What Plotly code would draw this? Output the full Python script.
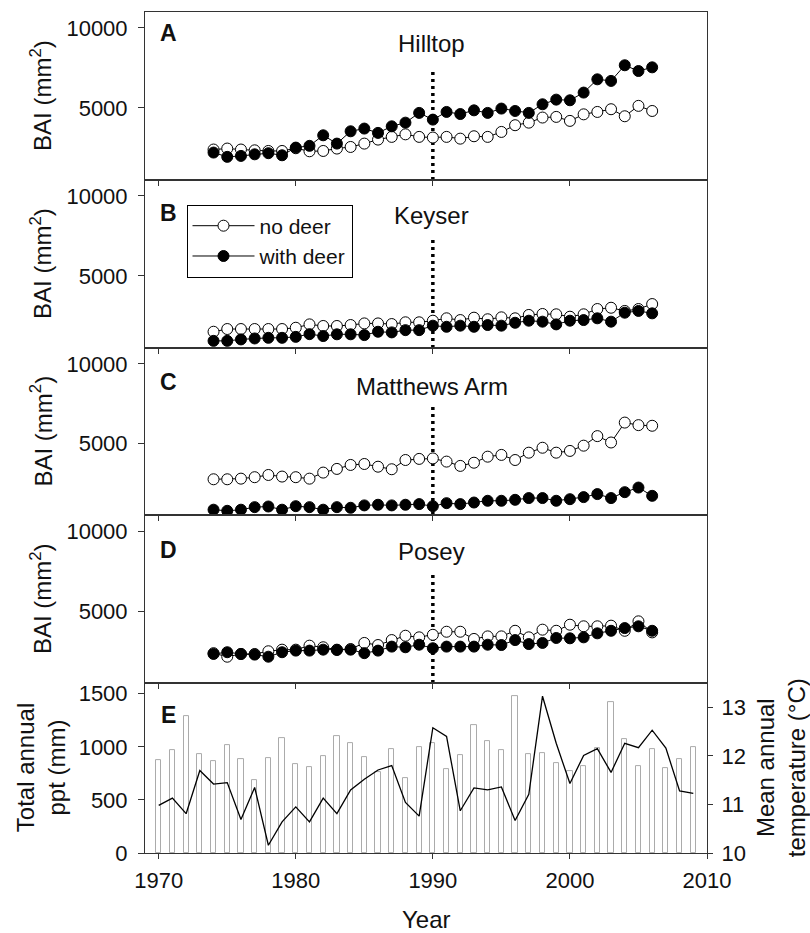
import plotly.graph_objects as go

# ---------------- data ----------------
bai_years = list(range(1974, 2007))

hilltop_no_deer = [2400, 2460, 2400, 2350, 2310, 2310, 2480, 2290, 2310, 2460, 2560,
                   2770, 3020, 3190, 3350, 3190, 3150, 3190, 3080, 3230, 3190, 3500,
                   3920, 4080, 4400, 4440, 4190, 4600, 4750, 4920, 4480, 5130, 4810]
hilltop_with_deer = [2210, 1940, 2000, 2100, 2170, 2040, 2520, 2630, 3290, 2770, 3540,
                     3710, 3440, 3850, 4080, 4690, 4270, 4750, 4620, 4850, 4690, 4960,
                     4810, 4690, 5230, 5520, 5480, 5960, 6790, 6690, 7670, 7310, 7540]

keyser_no_deer = [1510, 1680, 1680, 1680, 1680, 1680, 1760, 1970, 1870, 1870, 1930,
                  2030, 2030, 1990, 2100, 2100, 2200, 2350, 2240, 2390, 2290, 2410,
                  2350, 2560, 2620, 2600, 2450, 2600, 2930, 3010, 2810, 2930, 3240]
keyser_with_deer = [940, 940, 1030, 1090, 1130, 1130, 1190, 1360, 1240, 1350, 1350,
                    1300, 1510, 1470, 1610, 1610, 1890, 1820, 1890, 1820, 1930, 1890,
                    2070, 2200, 2140, 1970, 2200, 2240, 2350, 2140, 2700, 2810, 2660]

matthews_no_deer = [2750, 2750, 2790, 2880, 3020, 2920, 2880, 2790, 3170, 3400, 3650,
                    3710, 3540, 3380, 3960, 4030, 4060, 3860, 3590, 3790, 4170, 4280,
                    3960, 4420, 4730, 4420, 4530, 4860, 5460, 5060, 6310, 6150, 6110]
matthews_with_deer = [840, 770, 840, 1000, 1040, 840, 1060, 1000, 840, 1000, 960,
                      1110, 1150, 1110, 1150, 1190, 1060, 1250, 1190, 1290, 1400, 1400,
                      1460, 1570, 1570, 1400, 1500, 1630, 1820, 1570, 1940, 2230, 1710]

posey_no_deer = [2370, 2150, 2320, 2320, 2490, 2590, 2590, 2840, 2740, 2590, 2630,
                 3010, 2880, 3190, 3460, 3360, 3520, 3710, 3710, 3260, 3420, 3420,
                 3770, 3360, 3840, 3770, 4150, 4050, 4050, 4090, 3770, 4360, 3670]
posey_with_deer = [2320, 2430, 2320, 2280, 2150, 2430, 2530, 2530, 2590, 2570, 2590,
                   2370, 2530, 2780, 2740, 2900, 2680, 2780, 2780, 2780, 2900, 2880,
                   3190, 2940, 3010, 3320, 3300, 3360, 3610, 3770, 3940, 4050, 3770]

site_names = ["Hilltop", "Keyser", "Matthews Arm", "Posey"]
panel_letters = ["A", "B", "C", "D", "E"]

climate_years = list(range(1970, 2010))
total_ppt = [871, 965, 1289, 928, 868, 1016, 881, 686, 896, 1082,
             833, 808, 909, 1101, 1038, 899, 761, 975, 704, 1000,
             1035, 786, 918, 1205, 1054, 969, 1481, 928, 943, 846,
             774, 815, 991, 1418, 1069, 818, 975, 796, 881, 997]
mean_temp = [10.98, 11.13, 10.81, 11.70, 11.42, 11.45, 10.69, 11.35, 10.16, 10.64,
             10.95, 10.64, 11.13, 10.81, 11.30, 11.52, 11.71, 11.80, 11.04, 10.76,
             12.58, 12.40, 10.87, 11.34, 11.30, 11.36, 10.67, 11.21, 13.23, 12.26,
             11.43, 12.01, 12.15, 11.66, 12.26, 12.17, 12.53, 12.16, 11.28, 11.23]

exclosure_year = 1990
ref_line_top = 7450

x_ticks = [1970, 1980, 1990, 2000, 2010]
bai_ticks = [5000, 10000]
ppt_ticks = [0, 500, 1000, 1500]
temp_ticks = [10, 11, 12, 13]

# ---------------- layout geometry ----------------
W, H = 810, 933
ML, MR, MT, MB = 145, 103, 10, 80
PH = H - MT - MB
PW = W - ML - MR
bounds_px = [10, 178.3, 346.7, 514.3, 682.7, 853]


def py(px):
    return (H - MB - px) / PH


def pxx(px):
    return (px - ML) / PW


FONT = "Liberation Sans, Arial, sans-serif"
AXC = "#333333"
TXT = "#111111"
TICKF = 22

fig = go.Figure()

series = [(hilltop_no_deer, hilltop_with_deer), (keyser_no_deer, keyser_with_deer),
          (matthews_no_deer, matthews_with_deer), (posey_no_deer, posey_with_deer)]

for i, (nd, wd) in enumerate(series):
    xa = "x" if i == 0 else f"x{i+1}"
    ya = "y" if i == 0 else f"y{i+1}"
    fig.add_trace(go.Scatter(x=bai_years, y=nd, xaxis=xa, yaxis=ya, mode="lines+markers",
                             name="no deer", showlegend=(i == 0), legendrank=1,
                             line=dict(color="black", width=1),
                             marker=dict(symbol="circle", size=11, color="white",
                                         line=dict(color="black", width=1))))
    fig.add_trace(go.Scatter(x=bai_years, y=wd, xaxis=xa, yaxis=ya, mode="lines+markers",
                             name="with deer", showlegend=(i == 0), legendrank=2,
                             line=dict(color="black", width=1),
                             marker=dict(symbol="circle", size=11, color="black",
                                         line=dict(color="black", width=1))))

fig.add_trace(go.Bar(x=climate_years, y=total_ppt, xaxis="x5", yaxis="y5", width=0.38,
                     marker=dict(color="white", line=dict(color="#ababab", width=1)),
                     showlegend=False))
fig.add_trace(go.Scatter(x=climate_years, y=mean_temp, xaxis="x5", yaxis="y6", mode="lines",
                         line=dict(color="black", width=1.3), showlegend=False))

layout = dict(width=W, height=H, autosize=False,
              margin=dict(l=ML, r=MR, t=MT, b=MB),
              plot_bgcolor="white", paper_bgcolor="white",
              font=dict(family=FONT, size=TICKF, color=TXT),
              bargap=0, barmode="overlay")

xcommon = dict(range=[1969, 2010], tickvals=x_ticks, showgrid=False, zeroline=False,
               showline=True, linecolor=AXC, linewidth=1, mirror=True,
               ticks="outside", ticklen=5, tickcolor=AXC,
               tickfont=dict(size=TICKF, family=FONT, color=TXT))

for k in range(5):
    top_px, bot_px = bounds_px[k], bounds_px[k + 1]
    dom = [py(bot_px), py(top_px)]
    xname = "xaxis" if k == 0 else f"xaxis{k+1}"
    yname = "yaxis" if k == 0 else f"yaxis{k+1}"
    ya = "y" if k == 0 else f"y{k+1}"
    xa = "x" if k == 0 else f"x{k+1}"
    layout[xname] = dict(xcommon, anchor=ya, domain=[0, 1], showticklabels=(k == 4))
    if k < 4:
        layout[yname] = dict(range=[500, 11000], tickvals=bai_ticks, tickformat="d",
                             domain=dom, anchor=xa,
                             showgrid=False, zeroline=False, showline=True, linecolor=AXC,
                             mirror=True, ticks="outside", ticklen=6, tickcolor=AXC,
                             ticklabelstandoff=6,
                             tickfont=dict(size=TICKF, family=FONT, color=TXT))
    else:
        layout[yname] = dict(range=[0, 1600], tickvals=ppt_ticks, tickformat="d",
                             domain=dom, anchor=xa,
                             showgrid=False, zeroline=False, showline=True, linecolor=AXC,
                             mirror=False, ticks="outside", ticklen=6, tickcolor=AXC,
                             ticklabelstandoff=6,
                             tickfont=dict(size=TICKF, family=FONT, color=TXT))
layout["xaxis5"]["ticklabelstandoff"] = 3
layout["yaxis6"] = dict(range=[10, 13.5], tickvals=temp_ticks, overlaying="y5", side="right",
                        anchor="x5", showgrid=False, zeroline=False, showline=True,
                        linecolor=AXC, ticks="outside", ticklen=5, tickcolor=AXC,
                        ticklabelstandoff=4,
                        tickfont=dict(size=TICKF, family=FONT, color=TXT))

layout["legend"] = dict(x=pxx(186.5), y=py(203), xanchor="left", yanchor="top",
                        bordercolor="black", borderwidth=1, bgcolor="white",
                        font=dict(size=21, family=FONT, color=TXT),
                        traceorder="normal", itemwidth=62)

shapes = []
for k in range(4):
    xa = "x" if k == 0 else f"x{k+1}"
    ya = "y" if k == 0 else f"y{k+1}"
    shapes.append(dict(type="line", xref=xa, yref=ya, x0=exclosure_year, x1=exclosure_year,
                       y0=500, y1=ref_line_top, layer="below",
                       line=dict(color="black", width=3.5, dash="3px,4px")))
layout["shapes"] = shapes

ann = []
letter_y = [31.5, 211.5, 381, 549.5, 715]
for k, L in enumerate(panel_letters):
    ann.append(dict(text=f"<b>{L}</b>", xref="paper", yref="paper", x=pxx(168), y=py(letter_y[k]),
                    xanchor="center", yanchor="middle", showarrow=False,
                    font=dict(size=23, family=FONT, color=TXT)))
name_y = [42, 214, 385, 551]
for k, nm in enumerate(site_names):
    ann.append(dict(text=nm, xref="paper", yref="paper", x=pxx(431.5), y=py(name_y[k]),
                    xanchor="center", yanchor="middle", showarrow=False,
                    font=dict(size=24, family=FONT, color=TXT)))
for k in range(4):
    cy = (bounds_px[k] + bounds_px[k + 1]) / 2
    ann.append(dict(text="BAI (mm<sup>2</sup>)", xref="paper", yref="paper", x=pxx(41), y=py(cy),
                    xanchor="center", yanchor="middle", textangle=-90, showarrow=False,
                    font=dict(size=24, family=FONT, color=TXT)))
ann.append(dict(text="Total annual<br>ppt (mm)", xref="paper", yref="paper", x=pxx(41),
                y=py(768), xanchor="center", yanchor="middle", textangle=-90, showarrow=False,
                font=dict(size=24, family=FONT, color=TXT)))
ann.append(dict(text="Mean annual<br>temperature (°C)", xref="paper", yref="paper", x=pxx(781),
                y=py(768), xanchor="center", yanchor="middle", textangle=-90, showarrow=False,
                font=dict(size=24, family=FONT, color=TXT)))
ann.append(dict(text="Year", xref="paper", yref="paper", x=pxx(426), y=py(920),
                xanchor="center", yanchor="middle", showarrow=False,
                font=dict(size=24, family=FONT, color=TXT)))
layout["annotations"] = ann

fig.update_layout(**layout)
fig.write_html("out.html", config={"displayModeBar": False},
               post_script="document.body.style.margin='0px';document.body.style.padding='0px';")
